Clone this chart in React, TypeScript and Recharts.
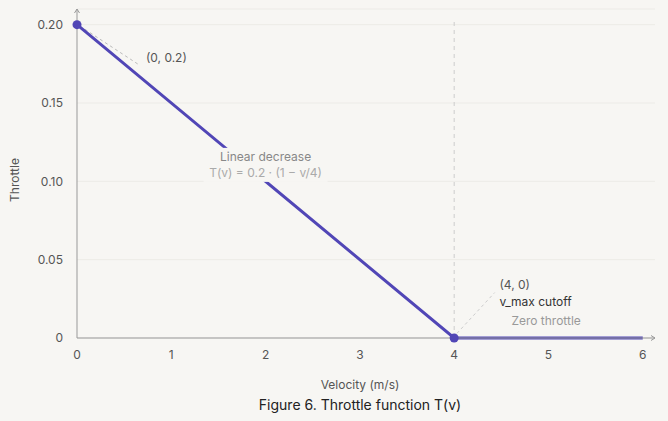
import React from 'react';
import { LineChart, Line, XAxis, YAxis, CartesianGrid, ReferenceLine, ReferenceDot } from 'recharts';

const velocity = [0, 4, 6];
const throttle = [0.2, 0, 0];
const xTicks = [0, 1, 2, 3, 4, 5, 6];
const yTicks = [0, 0.05, 0.1, 0.15, 0.2];

const data = velocity.map((v, i) => ({ v, t: throttle[i] }));

const FONT = 'Inter, "Open Sans", sans-serif';
const BG = '#f7f6f3';
const LINE = '#5146b6';

const dot = (props: any) => {
  const { cx, cy, index } = props;
  if (index > 1) return <g key={index} />;
  return <circle key={index} cx={cx} cy={cy} r={4.5} fill={LINE} />;
};

const TopLabel = ({ cx, cy }: any) => (
  <text x={cx} y={cy} dy={4} fontSize={12} fill="#555" fontFamily={FONT}>(0, 0.2)</text>
);

const MidLabel = ({ cx, cy }: any) => (
  <g>
    <rect x={cx - 62} y={cy - 17} width={124} height={34} fill={BG} />
    <text x={cx} y={cy - 8} dy={4} textAnchor="middle" fontSize={12} fill="#888" fontFamily={FONT}>Linear decrease</text>
    <text x={cx} y={cy + 8} dy={4} textAnchor="middle" fontSize={12} fill="#aaa" fontFamily={FONT}>T(v) = 0.2 · (1 − v/4)</text>
  </g>
);

const CutLabel = ({ cx, cy }: any) => (
  <g fontFamily={FONT} fontSize={12}>
    <text x={cx} y={cy} dy={4} fill="#555">(4, 0)</text>
    <text x={cx} y={cy + 17} dy={4} fill="#333">v_max cutoff</text>
    <text x={cx + 12} y={cy + 36} dy={4} fill="#999">Zero throttle</text>
  </g>
);

const ArrowUp = ({ cx, cy }: any) => (
  <path d={`M${cx - 2.5},${cy + 4} L${cx},${cy} L${cx + 2.5},${cy + 4}`} stroke="#999" fill="none" strokeWidth={1} />
);

const ArrowRight = ({ cx, cy }: any) => (
  <path d={`M${cx - 4},${cy - 2.5} L${cx},${cy} L${cx - 4},${cy + 2.5}`} stroke="#999" fill="none" strokeWidth={1} />
);

export default function App() {
  return (
    <div style={{ position: 'absolute', left: 0, top: 0, width: 668, height: 421, background: BG, fontFamily: FONT }}>
      <LineChart width={668} height={421} data={data} margin={{ top: 9, right: 13, left: 27, bottom: 53 }}>
        <CartesianGrid vertical={false} stroke="#ecebe7" />
        <XAxis
          dataKey="v"
          type="number"
          domain={[0, 6.13]}
          ticks={xTicks}
          tickLine={false}
          axisLine={{ stroke: '#999' }}
          tick={{ fontSize: 12, fill: '#555', fontFamily: FONT }}
          tickMargin={6}
          height={30}
        />
        <YAxis
          type="number"
          domain={[0, 0.21]}
          ticks={yTicks}
          tickLine={false}
          axisLine={{ stroke: '#999' }}
          tick={{ fontSize: 12, fill: '#555', fontFamily: FONT }}
          tickFormatter={(val: number) => (val === 0 ? '0' : val.toFixed(2))}
          tickMargin={8}
          width={50}
        />
        <ReferenceLine segment={[{ x: 4, y: 0 }, { x: 4, y: 0.203 }]} stroke="#ccc" strokeDasharray="4 4" />
        <ReferenceLine segment={[{ x: 0.085, y: 0.197 }, { x: 0.667, y: 0.174 }]} stroke="#bbb" strokeDasharray="3 3" />
        <ReferenceLine segment={[{ x: 4.03, y: 0.003 }, { x: 4.43, y: 0.029 }]} stroke="#ccc" strokeDasharray="3 3" />
        <Line
          type="linear"
          dataKey="t"
          stroke={LINE}
          strokeWidth={3}
          dot={dot}
          activeDot={false}
          isAnimationActive={false}
        />
        <ReferenceDot x={0.731} y={0.179} shape={TopLabel} />
        <ReferenceDot x={2.0} y={0.1105} shape={MidLabel} />
        <ReferenceDot x={4.48} y={0.0339} shape={CutLabel} />
        <ReferenceDot x={0} y={0.21} shape={ArrowUp} />
        <ReferenceDot x={6.13} y={0} shape={ArrowRight} />
      </LineChart>
      <div style={{ position: 'absolute', left: 14, top: 180, transform: 'translate(-50%, -50%) rotate(-90deg)', fontSize: 12, color: '#555', whiteSpace: 'nowrap' }}>Throttle</div>
      <div style={{ position: 'absolute', left: 0, width: 720, top: 377, textAlign: 'center', fontSize: 12, color: '#555' }}>Velocity (m/s)</div>
      <div style={{ position: 'absolute', left: 0, width: 720, top: 396, textAlign: 'center', fontSize: 14, color: '#222' }}>Figure 6. Throttle function T(v)</div>
    </div>
  );
}
